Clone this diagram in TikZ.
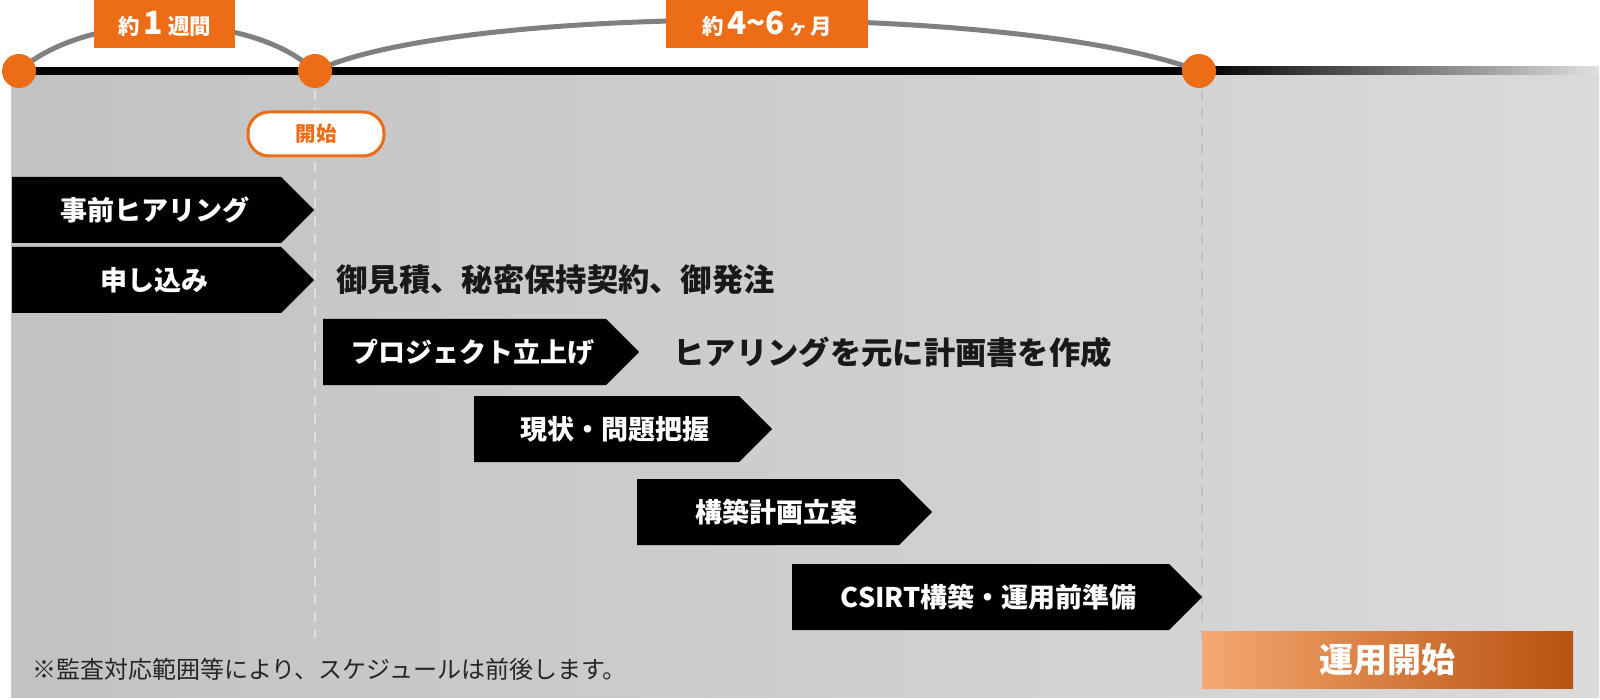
\documentclass[tikz,border=0pt]{standalone}
\usepackage{fontspec}
\setmainfont{Noto Sans CJK JP}
\usetikzlibrary{positioning,shapes.symbols}
\definecolor{accent}{RGB}{236,109,22}
\definecolor{accentL}{RGB}{244,168,112}
\definecolor{accentD}{RGB}{185,82,16}
\definecolor{arcgray}{RGB}{128,128,128}
\definecolor{bgL}{RGB}{194,194,194}
\definecolor{bgR}{RGB}{218,218,218}
\newcommand{\fs}[1]{\fontsize{#1}{#1}\selectfont}

\begin{document}
\begin{tikzpicture}[x=1pt,y=-1pt,
  phasebox/.style={shape=signal,signal to=east,signal from=nowhere,fill=black,text=white,
    font=\fs{27}\bfseries,minimum height=66pt,inner sep=0pt,anchor=west,
    execute at begin node=\hspace*{16pt}},
  stopdot/.style={circle,fill=accent,minimum size=34pt,inner sep=0pt},
  spanbox/.style={fill=accent,text=white,minimum height=48pt,inner sep=0pt,anchor=north west,font=\fs{21.5}\bfseries},
  arcline/.style={arcgray,line width=5pt},
  note/.style={font=\fs{31.3}\bfseries,text=black!90,inner sep=0pt,anchor=west}]
\useasboundingbox (0,0) rectangle (1600,700);
% background
\shade[left color=bgL,right color=bgR] (11,75) rectangle (1599,697);
\draw[white!88!black,line width=2pt,dash pattern=on 10pt off 8pt] (315,90) -- (315,638);
\draw[black!25,line width=2pt,dash pattern=on 10pt off 8pt] (1202,90) -- (1202,638);
% time line
\coordinate (t1) at (19,71);
\coordinate (t2) at (315,71);
\coordinate (t3) at (1199,71);
\fill (11,67) rectangle (1202,75);
\shade[left color=black,right color=black!12] (1202,67) rectangle (1599,75);
\draw[arcline] (t1) .. controls (87,10) and (250,10) .. (t2);
\draw[arcline] (t2) .. controls (460,3) and (1021,3) .. (t3);
\foreach \i in {1,2,3}
  \node[stopdot] (d\i) at (t\i) {};
\node[spanbox,minimum width=141pt] (w1) at (94,0) {約\,\fs{32}1\,\fs{21.5}週間};
\node[spanbox,minimum width=202pt] (w2) at (666,0) {約\,\fs{31.5}4\string~6\,\fs{18}ヶ\,\fs{21.5}月};
\node[draw=accent,line width=3pt,fill=white,rounded corners=21pt,minimum width=136pt,
  minimum height=44pt,text=accent,font=\fs{20.5}\bfseries] (start) at (316,134) {開始};
% phases
\node[phasebox,minimum width=302pt] (p1) at (12,210) {事前ヒアリング};
\node[phasebox,minimum width=302pt] (p2) at (12,280) {申し込み};
\node[phasebox,minimum width=316pt] (p3) at (323,352) {プロジェクト立上げ};
\node[phasebox,minimum width=298pt] (p4) at (474,429) {現状・問題把握};
\node[phasebox,minimum width=295pt] (p5) at (637,512) {構築計画立案};
\node[phasebox,minimum width=410pt] (p6) at (792,597) {CSIRT構築・運用前準備};
\node[note,right=22pt of p2.east] (n1) {御見積、秘密保持契約、御発注};
\node[note,right=34pt of p3.east] (n2) {ヒアリングを元に計画書を作成};
\node[font=\fs{24},text=black!85,anchor=west,inner sep=0pt] (fn) at (32,669)
  {※監査対応範囲等により、スケジュールは前後します。};
\node[anchor=north west,minimum width=371pt,minimum height=57pt,left color=accentL,
  middle color=accent,right color=accentD,text=white,font=\fs{34}\bfseries,inner sep=0pt]
  (ops) at (1202,631) {運用開始};
\end{tikzpicture}
\end{document}
